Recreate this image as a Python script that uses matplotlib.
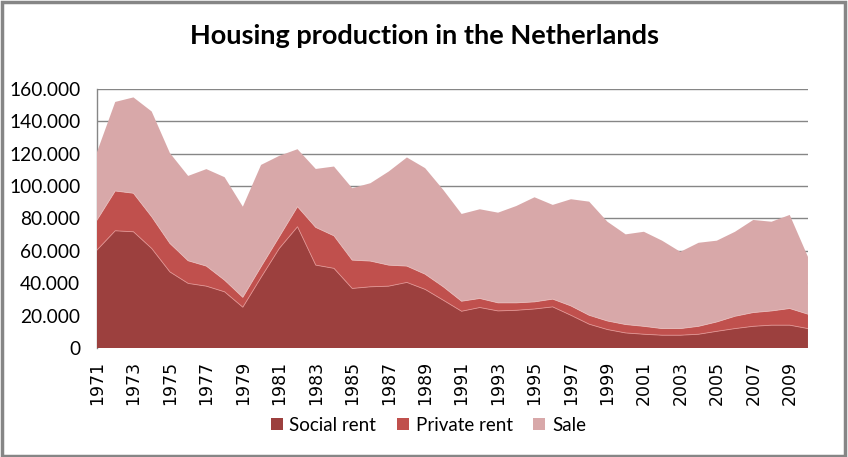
import matplotlib

matplotlib.use("Agg")
import matplotlib.pyplot as plt
from matplotlib.patches import Rectangle
from matplotlib.ticker import FuncFormatter

years = list(range(1971, 2011))
social_rent = [
    60500, 72400, 71800, 61500, 47000, 39900, 38200, 34700, 25200, 43600,
    61500, 74900, 51200, 49200, 36800, 37800, 38200, 40500, 36200, 29500,
    22700, 25000, 22900, 23300, 24100, 25400, 20200, 14700, 11400, 9300,
    8500, 7900, 7900, 8500, 10300, 12000, 13400, 14100, 14100, 12000,
]
private_rent_top = [
    79000, 97000, 95600, 81100, 64600, 53900, 50600, 41900, 31300, 50200,
    68700, 87300, 74500, 69300, 54300, 53700, 51200, 50600, 45600, 37800,
    28900, 30600, 27900, 27900, 28500, 30200, 26000, 20200, 16700, 14500,
    13400, 12000, 12000, 13400, 16100, 19600, 21900, 22900, 24400, 20900,
]
total = [
    121000, 152000, 154800, 146100, 120400, 106300, 110500, 105500, 87300, 113100,
    118700, 122800, 110600, 112100, 98700, 101800, 109000, 117700, 111100, 97600,
    82800, 85700, 83600, 87700, 93100, 88400, 91900, 90400, 78000, 70200,
    71800, 66300, 59400, 65000, 66300, 71800, 79100, 78000, 82200, 56300,
]
private_rent = [p - s for p, s in zip(private_rent_top, social_rent)]
sale = [t - p for t, p in zip(total, private_rent_top)]

series_labels = ["Social rent", "Private rent", "Sale"]
series_colors = ["#9C403E", "#C0504D", "#D8A8A9"]

TEXT_FONT = ["Lato", "DejaVu Sans"]

figure = plt.figure(figsize=(8.48, 4.57), dpi=100)
axis = figure.add_axes([0.1144, 0.2385, 0.8384, 0.5668])

polys = axis.stackplot(
    years,
    social_rent,
    private_rent,
    sale,
    colors=series_colors,
    labels=series_labels,
    linewidth=0,
    zorder=3,
)
# thin light edges along the stacked boundaries, as in the original
axis.plot(years, social_rent, color="#E0918F", linewidth=0.6, zorder=4)
axis.plot(years, private_rent_top, color="#E6B9B8", linewidth=0.6, zorder=4)

axis.set_xlim(1971, 2010)
axis.set_ylim(0, 160000)
axis.set_yticks(range(0, 160001, 20000))
axis.yaxis.set_major_formatter(
    FuncFormatter(lambda value, _: f"{int(value):,}".replace(",", "."))
)
axis.set_xticks(years[::2])
axis.set_xticklabels([str(y) for y in years[::2]], rotation=90, fontsize=12.5,
                     family="DejaVu Sans")
for label in axis.get_yticklabels():
    label.set_fontfamily(TEXT_FONT)
    label.set_fontsize(13.8)

axis.grid(axis="y", color="#868686", linewidth=1.0, zorder=1)
axis.tick_params(axis="both", length=0, colors="black")
axis.tick_params(axis="x", pad=9)
axis.tick_params(axis="y", pad=12)
for side in ["top", "right", "bottom"]:
    axis.spines[side].set_visible(False)
axis.spines["left"].set_color("#868686")
axis.spines["left"].set_linewidth(1.0)

figure.suptitle(
    "Housing production in the Netherlands",
    x=0.5,
    y=0.948,
    fontsize=19.5,
    fontweight="bold",
    family=TEXT_FONT,
)

figure.legend(
    handles=polys,
    labels=series_labels,
    loc="center",
    bbox_to_anchor=(0.505, 0.07),
    ncol=3,
    frameon=False,
    prop={"family": TEXT_FONT, "size": 13.5},
    handlelength=0.65,
    handleheight=0.65,
    handletextpad=0.35,
    columnspacing=1.1,
)

figure.patches.append(
    Rectangle((0.002, 0.003), 0.995, 0.993, transform=figure.transFigure,
              fill=False, edgecolor="#868686", linewidth=2.5)
)

figure.savefig("out.png", dpi=100)
plt.close(figure)
